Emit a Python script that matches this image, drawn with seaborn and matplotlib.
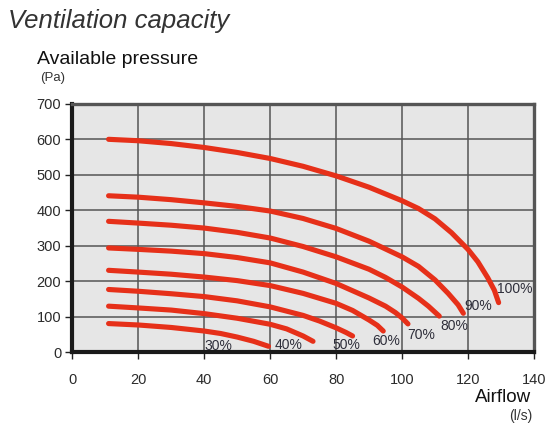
import matplotlib
matplotlib.use("Agg")
import matplotlib.pyplot as plt
import seaborn as sns
import pandas as pd

# ---- data ----
speed_labels = ["30%", "40%", "50%", "60%", "70%", "80%", "90%", "100%"]

flow_30 = [11, 20, 30, 40, 45, 50, 55, 59.5]
pres_30 = [81, 77, 70, 60, 53, 43, 31, 17]

flow_40 = [11, 20, 30, 40, 50, 60, 65, 70, 73]
pres_40 = [130, 125, 119, 109, 96, 79, 66, 46, 31]

flow_50 = [11, 20, 30, 40, 50, 60, 70, 75, 80, 83, 85]
pres_50 = [177, 172, 165, 157, 145, 128, 104, 88, 69, 56, 46]

flow_60 = [11, 20, 30, 40, 50, 60, 70, 80, 85, 90, 92.5, 94.3]
pres_60 = [231, 226, 220, 212, 202, 188, 166, 138, 118, 91, 76, 60]

flow_70 = [11, 20, 30, 40, 50, 60, 70, 80, 90, 95, 98, 100, 101.8]
pres_70 = [294, 290, 285, 278, 267, 252, 226, 194, 153, 130, 112, 97, 80]

flow_80 = [11, 20, 30, 40, 50, 60, 70, 80, 90, 95, 100, 105, 108, 111.3]
pres_80 = [369, 364, 358, 350, 338, 322, 298, 269, 234, 211, 184, 152, 130, 102]

flow_90 = [11, 20, 30, 40, 50, 60, 70, 80, 90, 100, 105, 110, 114, 117, 118.6]
pres_90 = [441, 437, 430, 421, 411, 398, 377, 349, 313, 269, 242, 204, 166, 134, 110]

flow_100 = [11, 20, 30, 40, 50, 60, 70, 80, 90, 100, 105, 110, 115, 120, 123, 126, 128, 129.3]
pres_100 = [600, 596, 588, 577, 563, 546, 524, 497, 465, 427, 405, 376, 337, 290, 255, 210, 175, 140]

label_x = [40.1, 61.5, 78.9, 90.9, 101.5, 111.6, 118.9, 128.7]
label_y = [18, 20, 20, 32, 48, 73.5, 130, 178]

x_ticks = [0, 20, 40, 60, 80, 100, 120, 140]
y_ticks = [0, 100, 200, 300, 400, 500, 600, 700]

flows = [flow_30, flow_40, flow_50, flow_60, flow_70, flow_80, flow_90, flow_100]
pressures = [pres_30, pres_40, pres_50, pres_60, pres_70, pres_80, pres_90, pres_100]

frames = []
for lab, fx, py in zip(speed_labels, flows, pressures):
    frames.append(pd.DataFrame({"flow": fx, "pressure": py, "speed": lab}))
df = pd.concat(frames, ignore_index=True)

# ---- style ----
sns.set_style("white")
plt.rcParams["font.family"] = ["Liberation Sans", "DejaVu Sans"]

RED = "#e63019"
GRID = "#555555"
TXT = "#2b2b2b"

fig = plt.figure(figsize=(5.55, 4.34), dpi=100)
ax = fig.add_axes([0.1303, 0.1882, 0.962 - 0.1303, 0.7608 - 0.1882])
ax.set_facecolor("#e6e6e6")

sns.lineplot(
    data=df, x="flow", y="pressure", hue="speed",
    palette={s: RED for s in speed_labels}, legend=False,
    estimator=None, errorbar=None, sort=False,
    linewidth=3.7, solid_capstyle="round", solid_joinstyle="round",
    ax=ax, zorder=3,
)

for lab, lx, ly in zip(speed_labels, label_x, label_y):
    ax.text(lx, ly, lab, ha="left", va="center", fontsize=10,
            color="#2e2e3a", zorder=4)

ax.set_xlim(0, 140)
ax.set_ylim(0, 700)
ax.set_xticks(x_ticks)
ax.set_yticks(y_ticks)
ax.set_xlabel("")
ax.set_ylabel("")
ax.grid(True, color=GRID, linewidth=1.1, zorder=1)
ax.set_axisbelow(True)

ax.tick_params(axis="x", direction="out", length=5, width=1, color="#222222",
               labelsize=10.5, labelcolor=TXT, pad=10, bottom=True)
ax.tick_params(axis="y", direction="out", length=5, width=1, color="#222222",
               labelsize=10.5, labelcolor=TXT, pad=3, left=True)

for side in ["left", "bottom"]:
    ax.spines[side].set_color("#1a1a1a")
    ax.spines[side].set_linewidth(3.0)
    ax.spines[side].set_visible(True)
for side in ["top", "right"]:
    ax.spines[side].set_color("#555555")
    ax.spines[side].set_linewidth(2.4)
    ax.spines[side].set_visible(True)

# ---- titles / axis captions ----
fig.text(8 / 555, 1 - 21 / 434, "Ventilation capacity", ha="left", va="center",
         fontsize=18.5, style="italic", color="#333333")
fig.text(37 / 555, 1 - 59 / 434, "Available pressure", ha="left", va="center",
         fontsize=14, color="#111111")
fig.text(40 / 555, 1 - 78 / 434, "(Pa)", ha="left", va="center",
         fontsize=9.5, color="#333333")
fig.text(531 / 555, 1 - 398 / 434, "Airflow", ha="right", va="center",
         fontsize=13.5, color="#111111")
fig.text(532 / 555, 1 - 416 / 434, "(l/s)", ha="right", va="center",
         fontsize=10, color="#333333")

fig.savefig("out.png", dpi=100, facecolor="white")
